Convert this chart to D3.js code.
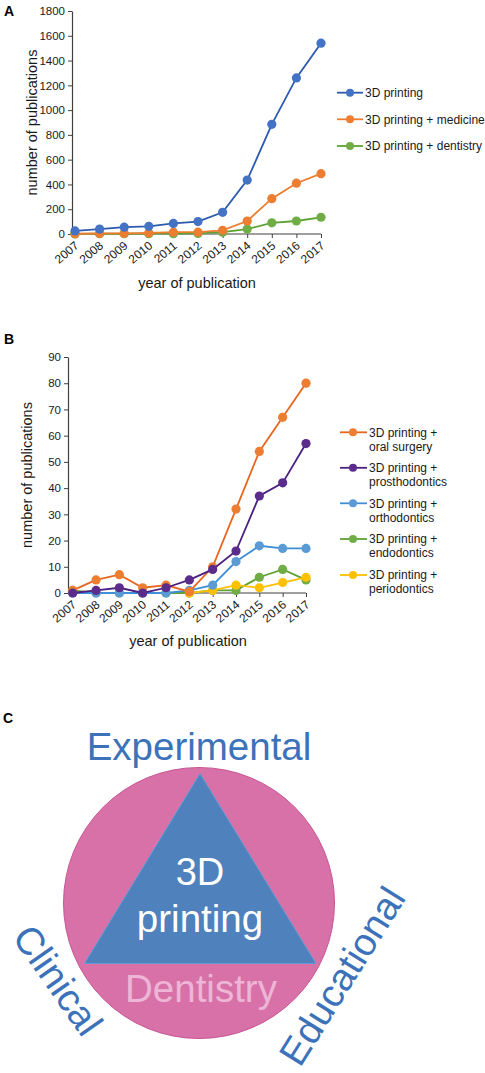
<!DOCTYPE html>
<html><head><meta charset="utf-8">
<script src="https://cdn.jsdelivr.net/npm/d3@7"></script>
<style>
html,body{margin:0;padding:0;background:#fff;}
svg{display:block;font-family:Arial,"Liberation Sans",sans-serif;}
</style></head>
<body>
<svg id="chart" width="485" height="1073"></svg>
<script>
// ---------- DATA ----------
const years = ["2007","2008","2009","2010","2011","2012","2013","2014","2015","2016","2017"];

// Panel A
const aPrinting  = [25, 40, 55, 62, 85, 100, 175, 435, 885, 1260, 1540];
const aMedicine  = [2, 4, 5, 8, 15, 15, 30, 105, 285, 410, 487];
const aDentistry = [1, 2, 2, 3, 3, 5, 15, 40, 90, 105, 135];
const aNames = ["3D printing", "3D printing + medicine", "3D printing + dentistry"];
const aTicks = [0, 200, 400, 600, 800, 1000, 1200, 1400, 1600, 1800];

// Panel B
const bOralSurgery    = [1, 5, 7, 2, 3, 0.5, 10, 32, 54, 67, 80];
const bProsthodontics = [0, 1, 2, 0, 2, 5, 9, 16, 37, 42, 57];
const bOrthodontics   = [0, 0, 0, 0, 0, 1, 3, 12, 18, 17, 17];
const bEndodontics    = [1, 0, 0, 0, 0, 0, 1, 1, 6, 9, 5];
const bPeriodontics   = [null, null, null, null, null, 0, 1, 3, 2, 4, 6];
const bNames = [["3D printing +","oral surgery"],["3D printing +","prosthodontics"],["3D printing +","orthodontics"],["3D printing +","endodontics"],["3D printing +","periodontics"]];
const bTicks = [0, 10, 20, 30, 40, 50, 60, 70, 80, 90];

// Panel C
const cCenter = ["3D", "printing"];
const cBase = "Dentistry";
const cAspects = ["Experimental", "Clinical", "Educational"];

// ---------- DRAW ----------
const svg = d3.select("#chart");
const FONT = 'Arial,"Liberation Sans",sans-serif';
const AX = "#404040";

function panel(opts){
  const g = svg.append("g");
  const x = d3.scalePoint().domain(years).range(opts.xr);
  const y = d3.scaleLinear().domain([0, opts.ymax]).range(opts.yr);
  // y axis
  const ya = g.append("g").attr("transform",`translate(${opts.axisX},0)`)
    .call(d3.axisLeft(y).tickValues(opts.ticks).tickFormat(d3.format("d")).tickSize(4).tickPadding(3).tickSizeOuter(0));
  ya.select(".domain").attr("stroke",AX).attr("stroke-width",1.2);
  ya.selectAll(".tick line").attr("stroke",AX);
  ya.selectAll(".tick text").attr("font-size",11.5).attr("fill","#1a1a1a").attr("font-family",FONT);
  // x axis
  const xa = g.append("g").attr("transform",`translate(0,${opts.yr[0]})`)
    .call(d3.axisBottom(x).tickSize(4).tickSizeOuter(0).tickFormat(d=>d));
  xa.select(".domain").attr("d",`M${opts.axisX},0H${opts.xr[1]}`).attr("stroke",AX).attr("stroke-width",1.2);
  xa.selectAll(".tick line").attr("stroke",AX);
  xa.selectAll(".tick text").attr("font-size",12).attr("fill","#1a1a1a").attr("font-family",FONT)
    .attr("text-anchor","end").attr("dy",0).attr("y",0)
    .attr("transform","translate(4,13) rotate(-40)");
  // titles
  g.append("text").attr("transform",`translate(${opts.ytx},${(opts.yr[0]+opts.yr[1])/2}) rotate(-90)`)
    .attr("text-anchor","middle").attr("font-size",14.5).attr("fill","#1a1a1a").text("number of publications");
  g.append("text").attr("x",opts.xtx).attr("y",opts.xty).attr("text-anchor","middle")
    .attr("font-size",14.5).attr("fill","#1a1a1a").text("year of publication");
  g.append("text").attr("x",opts.lx).attr("y",opts.ly).attr("font-size",14).attr("font-weight","bold").text(opts.label);
  // series
  const line = d3.line().defined(d=>d!=null).x((d,i)=>x(years[i])).y(d=>y(d));
  opts.series.forEach(s=>{
    g.append("path").attr("d",line(s.values)).attr("fill","none").attr("stroke",s.line).attr("stroke-width",1.8);
    g.selectAll(null).data(s.values.map((v,i)=>({v,i})).filter(d=>d.v!=null)).enter().append("circle")
      .attr("cx",d=>x(years[d.i])).attr("cy",d=>y(d.v)).attr("r",4.6).attr("fill",s.fill);
  });
  return g;
}

// Panel A
const seriesA = [
  {values:aPrinting, line:"#2C5AAE", fill:"#4472C4"},
  {values:aMedicine, line:"#ED7D31", fill:"#ED7D31"},
  {values:aDentistry, line:"#5EA132", fill:"#70AD47"}
];
const gA = panel({xr:[75,321], yr:[234,11], ymax:1800, ticks:aTicks, axisX:72,
  ytx:37, xtx:197, xty:288, lx:4, ly:16, label:"A",
  series:[seriesA[2],seriesA[1],seriesA[0]]});
const legA = [92.7,119.3,146];
seriesA.forEach((s,i)=>{
  const lg = gA.append("g").attr("transform",`translate(0,${legA[i]})`);
  lg.append("line").attr("x1",337).attr("x2",363).attr("stroke",s.line).attr("stroke-width",1.8);
  lg.append("circle").attr("cx",350).attr("r",4).attr("fill",s.fill);
  lg.append("text").attr("x",365).attr("y",4.3).attr("font-size",12).attr("fill","#1a1a1a").text(aNames[i]);
});

// Panel B
const seriesB = [
  {values:bOralSurgery, line:"#E8661F", fill:"#ED7D31"},
  {values:bProsthodontics, line:"#4B2080", fill:"#5B2C8C"},
  {values:bOrthodontics, line:"#3F8ED6", fill:"#5B9BD5"},
  {values:bEndodontics, line:"#5EA132", fill:"#70AD47"},
  {values:bPeriodontics, line:"#FFC000", fill:"#FFC000"}
];
const gB = panel({xr:[72.7,306], yr:[593,357], ymax:90, ticks:bTicks, axisX:68,
  ytx:32, xtx:188, xty:646, lx:4, ly:344, label:"B",
  series:[seriesB[3],seriesB[4],seriesB[2],seriesB[0],seriesB[1]]});
const legB = [432.3,467.8,503.3,539,575];
seriesB.forEach((s,i)=>{
  const lg = gB.append("g").attr("transform",`translate(0,${legB[i]})`);
  lg.append("line").attr("x1",340).attr("x2",367).attr("stroke",s.line).attr("stroke-width",1.8);
  lg.append("circle").attr("cx",353).attr("r",4).attr("fill",s.fill);
  lg.append("text").attr("x",369).attr("y",4.3).attr("font-size",12).attr("fill","#1a1a1a").text(bNames[i][0]);
  lg.append("text").attr("x",369).attr("y",18.3).attr("font-size",12).attr("fill","#1a1a1a").text(bNames[i][1]);
});

// Panel C
const gC = svg.append("g");
gC.append("text").attr("x",3).attr("y",723).attr("font-size",14).attr("font-weight","bold").text("C");
const cx = 199, cy = 903, R = 135.5;
gC.append("circle").attr("cx",cx).attr("cy",cy).attr("r",R).attr("fill","#D871A7").attr("stroke","#C85595").attr("stroke-width",1);
const tri = [[200,773.5],[84.5,963.5],[316,963.5]];
gC.append("path").attr("d",d3.line()(tri)+"Z").attr("fill","#4F81BD").attr("stroke","#5BA3DA").attr("stroke-width",0.8);
gC.append("text").attr("x",200).attr("y",885).attr("text-anchor","middle").attr("font-size",38).attr("fill","#fff").text(cCenter[0]);
gC.append("text").attr("x",200).attr("y",931.5).attr("text-anchor","middle").attr("font-size",38.5).attr("fill","#fff").text(cCenter[1]);
gC.append("text").attr("x",201).attr("y",1001.5).attr("text-anchor","middle").attr("font-size",38.5).attr("fill","#EDB6D6").text(cBase);
const blue = "#3B72B9";
gC.append("text").attr("x",199).attr("y",760).attr("text-anchor","middle").attr("font-size",38.5).attr("fill",blue).text(cAspects[0]);
gC.append("text").attr("transform","translate(58,980) rotate(55)").attr("text-anchor","middle").attr("dy","0.35em").attr("font-size",38.5).attr("fill",blue).text(cAspects[1]);
gC.append("text").attr("transform","translate(342,976) rotate(-58)").attr("text-anchor","middle").attr("dy","0.35em").attr("font-size",38.5).attr("fill",blue).text(cAspects[2]);
</script>
</body></html>
